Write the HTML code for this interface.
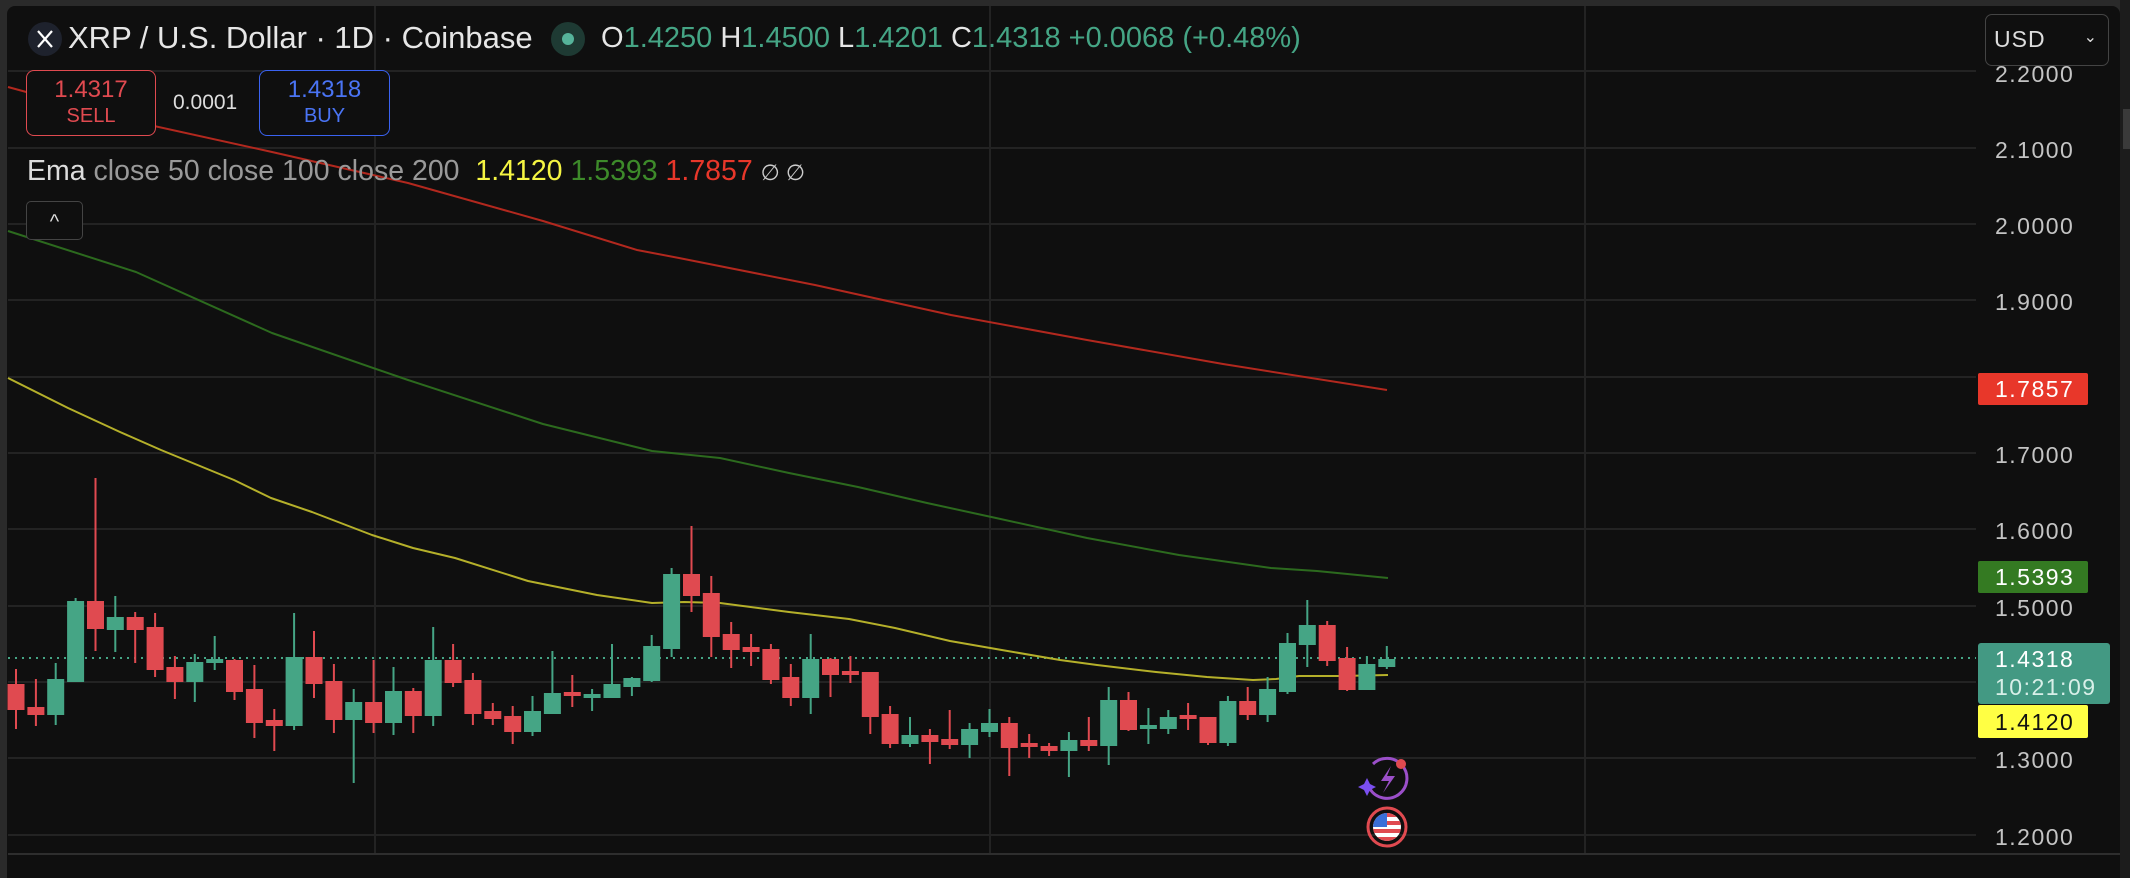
<!DOCTYPE html>
<html><head><meta charset="utf-8"><style>
html,body{margin:0;padding:0;background:#2a2a2a;width:2130px;height:878px;overflow:hidden;font-family:"Liberation Sans",sans-serif}
.panel{position:absolute;left:7px;top:6px;width:2113px;height:872px;background:#0f0f0f;border-radius:8px 8px 0 0}
svg{position:absolute;left:0;top:0}
.t{position:absolute;white-space:nowrap}
</style></head><body>
<div class="panel"></div>
<svg width="2130" height="878" viewBox="0 0 2130 878">
<g stroke="#232323" stroke-width="2">
<line x1="8" y1="71" x2="1976" y2="71"/><line x1="8" y1="148" x2="1976" y2="148"/><line x1="8" y1="224" x2="1976" y2="224"/><line x1="8" y1="300" x2="1976" y2="300"/><line x1="8" y1="377" x2="1976" y2="377"/><line x1="8" y1="453" x2="1976" y2="453"/><line x1="8" y1="529" x2="1976" y2="529"/><line x1="8" y1="606" x2="1976" y2="606"/><line x1="8" y1="682" x2="1976" y2="682"/><line x1="8" y1="758" x2="1976" y2="758"/><line x1="8" y1="835" x2="1976" y2="835"/>
<line x1="375" y1="6" x2="375" y2="854"/><line x1="990" y1="6" x2="990" y2="854"/><line x1="1585" y1="6" x2="1585" y2="854"/>
</g>
<line x1="8" y1="854" x2="2120" y2="854" stroke="#2e2e2e" stroke-width="2"/>
<rect x="2120" y="0" width="10" height="878" fill="#1c1c1c"/>
<rect x="2123" y="109" width="7" height="40" fill="#3a3a3a"/>
<line x1="8" y1="658" x2="1976" y2="658" stroke="#45a585" stroke-width="2" stroke-dasharray="2 5"/>
<g fill="none" stroke-width="2" stroke-linejoin="round">
<polyline stroke="#b2281e" points="8,87 136,122 272,152 408,183 543,221 637,250 679,258 815,285 951,315 1087,340 1223,364 1387,390"/>
<polyline stroke="#2c6a1e" points="8,231 136,272 272,333 408,380 543,424 652,451 720,458 789,473 858,487 927,503 996,518 1087,538 1179,555 1271,568 1317,571 1388,578"/>
<polyline stroke="#b5b02a" points="8,378 68,408 120,432 161,450 234,480 271,498 312,512 372,535 413,548 455,558 528,581 597,595 652,603 684,602 720,603 789,612 849,619 895,628 950,641 996,649 1060,660 1097,665 1156,672 1207,677 1253,680 1276,679 1299,676 1340,676 1388,675"/>
</g>
<g stroke-width="2">
<g stroke="#e04a50" fill="#e04a50">
<line x1="16" y1="669" x2="16" y2="729"/><rect x="8.5" y="685" width="15" height="24"/>
<line x1="35.9" y1="679" x2="35.9" y2="726"/><rect x="28.4" y="708" width="15" height="6"/>
<line x1="95.5" y1="478" x2="95.5" y2="651"/><rect x="88" y="602" width="15" height="26"/>
<line x1="135.2" y1="612" x2="135.2" y2="663"/><rect x="127.7" y="618" width="15" height="11"/>
<line x1="155.1" y1="613" x2="155.1" y2="677"/><rect x="147.6" y="628" width="15" height="41"/>
<line x1="174.9" y1="656" x2="174.9" y2="699"/><rect x="167.4" y="668" width="15" height="13"/>
<line x1="234.5" y1="659" x2="234.5" y2="700"/><rect x="227" y="661" width="15" height="30"/>
<line x1="254.4" y1="665" x2="254.4" y2="738"/><rect x="246.9" y="690" width="15" height="32"/>
<line x1="274.3" y1="709" x2="274.3" y2="751"/><rect x="266.8" y="721" width="15" height="4"/>
<line x1="314" y1="631" x2="314" y2="698"/><rect x="306.5" y="658" width="15" height="25"/>
<line x1="333.9" y1="664" x2="333.9" y2="733"/><rect x="326.4" y="682" width="15" height="37"/>
<line x1="373.6" y1="660" x2="373.6" y2="733"/><rect x="366.1" y="703" width="15" height="19"/>
<line x1="413.3" y1="688" x2="413.3" y2="733"/><rect x="405.8" y="692" width="15" height="23"/>
<line x1="453.1" y1="644" x2="453.1" y2="687"/><rect x="445.6" y="661" width="15" height="21"/>
<line x1="472.9" y1="673" x2="472.9" y2="725"/><rect x="465.4" y="681" width="15" height="32"/>
<line x1="492.8" y1="703" x2="492.8" y2="725"/><rect x="485.3" y="712" width="15" height="6"/>
<line x1="512.7" y1="706" x2="512.7" y2="744"/><rect x="505.2" y="717" width="15" height="14"/>
<line x1="572.3" y1="675" x2="572.3" y2="707"/><rect x="564.8" y="693" width="15" height="2"/>
<line x1="691.5" y1="526" x2="691.5" y2="612"/><rect x="684" y="575" width="15" height="20"/>
<line x1="711.3" y1="576" x2="711.3" y2="657"/><rect x="703.8" y="594" width="15" height="42"/>
<line x1="731.2" y1="622" x2="731.2" y2="668"/><rect x="723.7" y="635" width="15" height="14"/>
<line x1="751.1" y1="634" x2="751.1" y2="666"/><rect x="743.6" y="648" width="15" height="3"/>
<line x1="770.9" y1="644" x2="770.9" y2="684"/><rect x="763.4" y="650" width="15" height="29"/>
<line x1="790.8" y1="664" x2="790.8" y2="706"/><rect x="783.3" y="678" width="15" height="19"/>
<line x1="830.5" y1="658" x2="830.5" y2="697"/><rect x="823" y="660" width="15" height="14"/>
<line x1="850.4" y1="656" x2="850.4" y2="683"/><rect x="842.9" y="672" width="15" height="2"/>
<line x1="870.3" y1="672" x2="870.3" y2="734"/><rect x="862.8" y="673" width="15" height="43"/>
<line x1="890.1" y1="706" x2="890.1" y2="748"/><rect x="882.6" y="715" width="15" height="28"/>
<line x1="929.9" y1="729" x2="929.9" y2="764"/><rect x="922.4" y="736" width="15" height="5"/>
<line x1="949.7" y1="710" x2="949.7" y2="749"/><rect x="942.2" y="740" width="15" height="4"/>
<line x1="1009.3" y1="717" x2="1009.3" y2="776"/><rect x="1001.8" y="724" width="15" height="23"/>
<line x1="1029.2" y1="734" x2="1029.2" y2="758"/><rect x="1021.7" y="744" width="15" height="2"/>
<line x1="1049.1" y1="743" x2="1049.1" y2="756"/><rect x="1041.6" y="747" width="15" height="3"/>
<line x1="1088.8" y1="717" x2="1088.8" y2="751"/><rect x="1081.3" y="741" width="15" height="4"/>
<line x1="1128.5" y1="692" x2="1128.5" y2="731"/><rect x="1121" y="701" width="15" height="28"/>
<line x1="1188.1" y1="703" x2="1188.1" y2="730"/><rect x="1180.6" y="716" width="15" height="2"/>
<line x1="1208" y1="717" x2="1208" y2="745"/><rect x="1200.5" y="718" width="15" height="24"/>
<line x1="1247.7" y1="687" x2="1247.7" y2="720"/><rect x="1240.2" y="702" width="15" height="12"/>
<line x1="1327.2" y1="621" x2="1327.2" y2="666"/><rect x="1319.7" y="626" width="15" height="34"/>
<line x1="1347.1" y1="647" x2="1347.1" y2="691"/><rect x="1339.6" y="659" width="15" height="30"/>
</g>
<g stroke="#45a585" fill="#45a585">
<line x1="55.7" y1="663" x2="55.7" y2="725"/><rect x="48.2" y="680" width="15" height="34"/>
<line x1="75.6" y1="598" x2="75.6" y2="681"/><rect x="68.1" y="602" width="15" height="79"/>
<line x1="115.3" y1="596" x2="115.3" y2="652"/><rect x="107.8" y="618" width="15" height="11"/>
<line x1="194.8" y1="654" x2="194.8" y2="702"/><rect x="187.3" y="663" width="15" height="18"/>
<line x1="214.7" y1="636" x2="214.7" y2="670"/><rect x="207.2" y="660" width="15" height="2"/>
<line x1="294.1" y1="613" x2="294.1" y2="730"/><rect x="286.6" y="658" width="15" height="67"/>
<line x1="353.7" y1="689" x2="353.7" y2="783"/><rect x="346.2" y="703" width="15" height="16"/>
<line x1="393.5" y1="667" x2="393.5" y2="735"/><rect x="386" y="692" width="15" height="30"/>
<line x1="433.2" y1="627" x2="433.2" y2="726"/><rect x="425.7" y="661" width="15" height="54"/>
<line x1="532.5" y1="696" x2="532.5" y2="736"/><rect x="525" y="712" width="15" height="19"/>
<line x1="552.4" y1="651" x2="552.4" y2="714"/><rect x="544.9" y="694" width="15" height="19"/>
<line x1="592.1" y1="689" x2="592.1" y2="711"/><rect x="584.6" y="695" width="15" height="2"/>
<line x1="612" y1="644" x2="612" y2="697"/><rect x="604.5" y="685" width="15" height="12"/>
<line x1="631.9" y1="677" x2="631.9" y2="696"/><rect x="624.4" y="679" width="15" height="7"/>
<line x1="651.7" y1="635" x2="651.7" y2="682"/><rect x="644.2" y="647" width="15" height="33"/>
<line x1="671.6" y1="568" x2="671.6" y2="657"/><rect x="664.1" y="575" width="15" height="73"/>
<line x1="810.7" y1="634" x2="810.7" y2="714"/><rect x="803.2" y="660" width="15" height="37"/>
<line x1="910" y1="717" x2="910" y2="747"/><rect x="902.5" y="736" width="15" height="7"/>
<line x1="969.6" y1="723" x2="969.6" y2="758"/><rect x="962.1" y="730" width="15" height="14"/>
<line x1="989.5" y1="709" x2="989.5" y2="737"/><rect x="982" y="724" width="15" height="7"/>
<line x1="1068.9" y1="732" x2="1068.9" y2="777"/><rect x="1061.4" y="741" width="15" height="9"/>
<line x1="1108.7" y1="687" x2="1108.7" y2="765"/><rect x="1101.2" y="701" width="15" height="44"/>
<line x1="1148.4" y1="708" x2="1148.4" y2="744"/><rect x="1140.9" y="726" width="15" height="2"/>
<line x1="1168.3" y1="710" x2="1168.3" y2="734"/><rect x="1160.8" y="718" width="15" height="10"/>
<line x1="1227.9" y1="696" x2="1227.9" y2="746"/><rect x="1220.4" y="702" width="15" height="40"/>
<line x1="1267.6" y1="677" x2="1267.6" y2="722"/><rect x="1260.1" y="690" width="15" height="24"/>
<line x1="1287.5" y1="633" x2="1287.5" y2="694"/><rect x="1280" y="644" width="15" height="47"/>
<line x1="1307.3" y1="600" x2="1307.3" y2="667"/><rect x="1299.8" y="626" width="15" height="18"/>
<line x1="1366.9" y1="656" x2="1366.9" y2="689"/><rect x="1359.4" y="665" width="15" height="24"/>
<line x1="1386.8" y1="646" x2="1386.8" y2="669"/><rect x="1379.3" y="660" width="15" height="6"/>
</g>
</g>
<path d="M1373 764 A20 20 0 1 1 1370 789" fill="none" stroke="#9b4fc9" stroke-width="3"/>
<path d="M1391 766 L1381 781 L1389 781 L1383 793 L1395 776 L1387 776 Z" fill="#9b4fc9"/>
<path d="M1367 778 L1370 784 L1376 787 L1370 790 L1367 796 L1364 790 L1358 787 L1364 784 Z" fill="#7a4ff0"/>
<circle cx="1401" cy="764" r="5" fill="#e04a50"/>
<circle cx="1387" cy="827" r="19" fill="none" stroke="#e04a50" stroke-width="3"/>
<clipPath id="fl"><circle cx="1387" cy="827" r="14"/></clipPath>
<g clip-path="url(#fl)"><rect x="1370" y="810" width="34" height="34" fill="#fff"/>
<rect x="1370" y="813" width="34" height="4" fill="#e04a50"/><rect x="1370" y="821" width="34" height="4" fill="#e04a50"/><rect x="1370" y="829" width="34" height="4" fill="#e04a50"/><rect x="1370" y="837" width="34" height="4" fill="#e04a50"/>
<rect x="1370" y="810" width="17" height="17" fill="#3a6fd8"/></g>
<circle cx="45" cy="39" r="17" fill="#1e222d"/>
<path d="M38 31 L52 47 M52 31 L38 47" stroke="#fff" stroke-width="2.2"/>
<circle cx="568" cy="39" r="17" fill="#1e3a33"/>
<circle cx="568" cy="39" r="6" fill="#56b39a"/>
<rect x="1978" y="373" width="110" height="32" rx="2" fill="#e8372a"/>
<rect x="1978" y="561" width="110" height="32" rx="2" fill="#347a22"/>
<rect x="1978" y="643" width="132" height="61" rx="3" fill="#439983"/>
<rect x="1978" y="705" width="110" height="33" rx="2" fill="#ffff44"/>
</svg>
<div class="t" style="left:0;top:0;width:2130px;height:878px;font-size:23px;letter-spacing:1.5px;color:#c4c4c4">
<div class="t" style="left:1995px;top:61px">2.2000</div>
<div class="t" style="left:1995px;top:137px">2.1000</div>
<div class="t" style="left:1995px;top:213px">2.0000</div>
<div class="t" style="left:1995px;top:289px">1.9000</div>
<div class="t" style="left:1995px;top:442px">1.7000</div>
<div class="t" style="left:1995px;top:518px">1.6000</div>
<div class="t" style="left:1995px;top:595px">1.5000</div>
<div class="t" style="left:1995px;top:747px">1.3000</div>
<div class="t" style="left:1995px;top:824px">1.2000</div>
<div class="t" style="left:1995px;top:376px;color:#fff">1.7857</div>
<div class="t" style="left:1995px;top:564px;color:#fff">1.5393</div>
<div class="t" style="left:1995px;top:646px;color:#fff">1.4318</div>
<div class="t" style="left:1995px;top:674px;color:#d8efe8">10:21:09</div>
<div class="t" style="left:1995px;top:709px;color:#111">1.4120</div>
</div>
<div class="t" style="left:1985px;top:14px;width:124px;height:52px;border:1.5px solid #444;border-radius:7px;background:#0f0f0f;box-sizing:border-box;color:#ddd;font-size:23px;letter-spacing:1px;line-height:49px;padding-left:8px">USD<span style="position:absolute;right:10px;top:-2px;font-size:16px">&#8964;</span></div>
<div class="t" style="left:68px;top:20px;font-size:31px;color:#e6e6e6">XRP / U.S. Dollar · 1D · Coinbase</div>
<div class="t" style="left:601px;top:22px;font-size:29px;color:#45a585"><span style="color:#e6e6e6">O</span>1.4250 <span style="color:#e6e6e6">H</span>1.4500 <span style="color:#e6e6e6">L</span>1.4201 <span style="color:#e6e6e6">C</span>1.4318 +0.0068 (+0.48%)</div>
<div class="t" style="left:26px;top:70px;width:130px;height:66px;border:1.5px solid #e04a50;border-radius:8px;box-sizing:border-box;text-align:center;color:#e04a50;background:#0f0f0f"><div style="font-size:24px;margin-top:5px">1.4317</div><div style="font-size:20px;margin-top:1px">SELL</div></div>
<div class="t" style="left:173px;top:91px;font-size:21px;color:#ddd">0.0001</div>
<div class="t" style="left:259px;top:70px;width:131px;height:66px;border:1.5px solid #3a62f0;border-radius:8px;box-sizing:border-box;text-align:center;color:#4a74f5;background:#0f0f0f"><div style="font-size:24px;margin-top:5px">1.4318</div><div style="font-size:20px;margin-top:1px">BUY</div></div>
<div class="t" style="left:27px;top:155px;font-size:28.5px;color:#999"><span style="color:#ddd">Ema</span> close 50 close 100 close 200 &nbsp;<span style="color:#f5f542">1.4120</span> <span style="color:#3d8a2a">1.5393</span> <span style="color:#e8372a">1.7857</span> <span style="color:#ccc;font-size:22px">&#8709; &#8709;</span></div>
<div class="t" style="left:26px;top:201px;width:57px;height:39px;border:1.5px solid #444;border-radius:5px;box-sizing:border-box;background:#0f0f0f;color:#ddd;text-align:center;font-size:20px;line-height:40px">^</div>
</body></html>
